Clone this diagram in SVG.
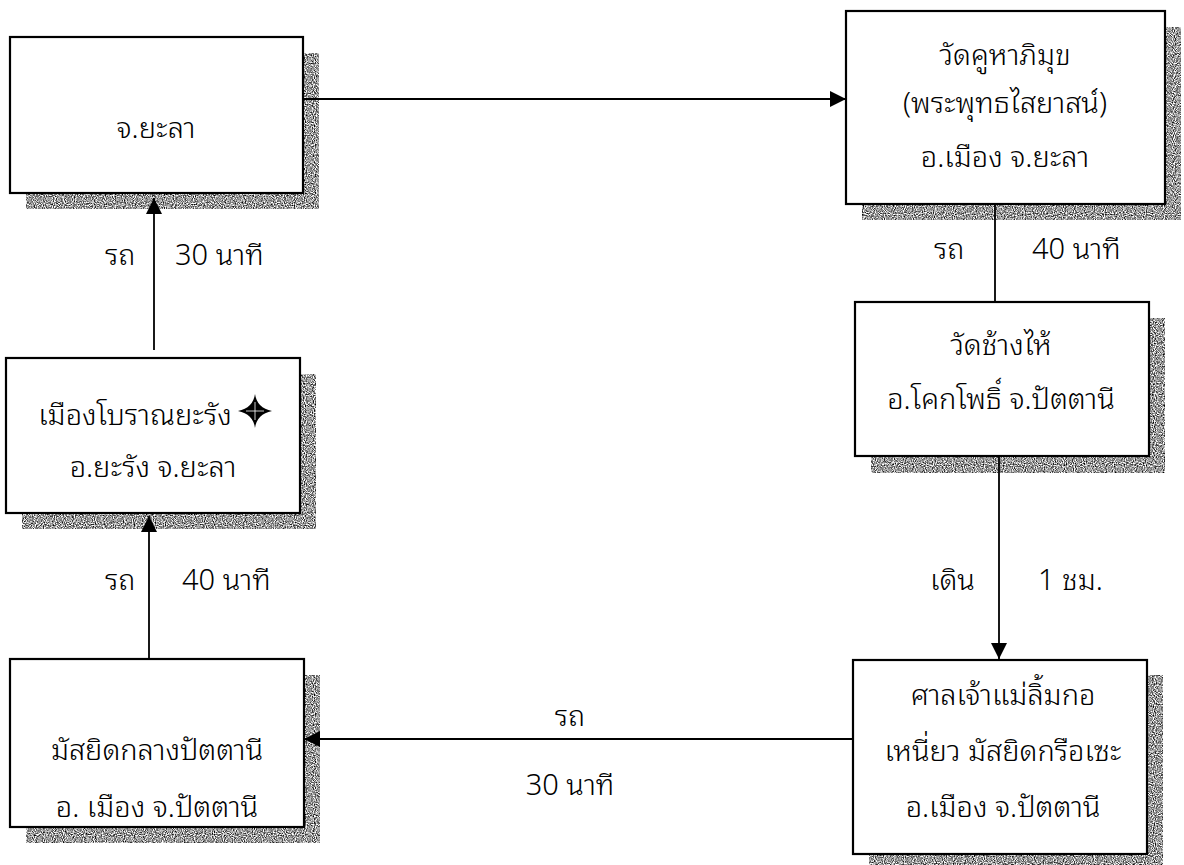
<svg xmlns="http://www.w3.org/2000/svg" width="1184" height="865" viewBox="0 0 1184 865">
<style>
.box{fill:#fff;stroke:#000;stroke-width:2.2}
.sh{fill:#888;filter:url(#noise)}
.t{font-family:"Noto Sans Thai Looped","Noto Sans Thai","Noto Sans",sans-serif;font-size:29px;font-weight:300;fill:#000;text-anchor:middle}
.lb{font-family:"Noto Sans Thai Looped","Noto Sans Thai","Noto Sans",sans-serif;font-size:29px;font-weight:300;fill:#000}
.c{fill:none;stroke:#000;stroke-width:1.8}
</style>
<defs>
<filter id="noise" x="0" y="0" width="1" height="1" filterUnits="objectBoundingBox" color-interpolation-filters="sRGB">
<feTurbulence type="fractalNoise" baseFrequency="0.9" numOctaves="1" seed="3" result="n"/>
<feColorMatrix in="n" type="matrix" values="2.2 0 0 0 -0.5  2.2 0 0 0 -0.5  2.2 0 0 0 -0.5  0 0 0 0 1" result="g"/>
<feComposite in="g" in2="SourceAlpha" operator="in"/>
</filter>
<marker id="ah" markerUnits="userSpaceOnUse" markerWidth="16" markerHeight="16" viewBox="0 0 16 16" refX="16" refY="8" orient="auto">
<path d="M0,0 L16,8 L0,16 Z" fill="#000"/>
</marker>
</defs>

<g id="n1">
<rect class="sh" x="26" y="53" width="293" height="156"/>
<rect class="box" x="10" y="37" width="293" height="156"/>
<text class="t" x="156" y="138">จ.ยะลา</text>
</g>

<g id="n2">
<rect class="sh" x="862" y="27" width="319" height="193"/>
<rect class="box" x="846" y="11" width="319" height="193"/>
<text class="t" x="1005" y="65">วัดคูหาภิมุข</text>
<text class="t" x="1005" y="113">(พระพุทธไสยาสน์)</text>
<text class="t" x="1005" y="167">อ.เมือง จ.ยะลา</text>
</g>

<g id="n3">
<rect class="sh" x="871" y="318" width="294" height="155"/>
<rect class="box" x="855" y="302" width="294" height="154"/>
<text class="t" x="1001" y="355">วัดช้างไห้</text>
<text class="t" x="1001" y="409">อ.โคกโพธิ์ จ.ปัตตานี</text>
</g>

<g id="n4">
<rect class="sh" x="22" y="374" width="294" height="155"/>
<rect class="box" x="6" y="358" width="294" height="155"/>
<text class="t" x="135" y="425">เมืองโบราณยะรัง</text>
<path d="M255,394 Q257,408 272,411 Q257,414 255,428 Q253,414 238,411 Q253,408 255,394 Z" fill="#000"/>
<path d="M255,402 L255,420 M246,411 L264,411" stroke="#fff" stroke-width="0.8"/>
<text class="t" x="153" y="477">อ.ยะรัง จ.ยะลา</text>
</g>

<g id="n5">
<rect class="sh" x="26" y="675" width="294" height="168"/>
<rect class="box" x="10" y="659" width="294" height="168"/>
<text class="t" x="157" y="760">มัสยิดกลางปัตตานี</text>
<text class="t" x="157" y="817">อ. เมือง จ.ปัตตานี</text>
</g>

<g id="n6">
<rect class="sh" x="869" y="675" width="294" height="194"/>
<rect class="box" x="853" y="660" width="294" height="194"/>
<text class="t" x="1003" y="705">ศาลเจ้าแม่ลิ้มกอ</text>
<text class="t" x="1003" y="761">เหนี่ยว มัสยิดกรือเซะ</text>
<text class="t" x="1003" y="817">อ.เมือง จ.ปัตตานี</text>
</g>

<g id="connectors">
<line class="c" x1="303" y1="99" x2="846" y2="99" marker-end="url(#ah)"/>
<line class="c" x1="995" y1="204" x2="995" y2="302"/>
<line class="c" x1="999" y1="456" x2="999" y2="659" marker-end="url(#ah)"/>
<line class="c" x1="853" y1="739" x2="304" y2="739" marker-end="url(#ah)"/>
<line class="c" x1="149" y1="659" x2="149" y2="516" marker-end="url(#ah)"/>
<line class="c" x1="154" y1="350" x2="154" y2="198" marker-end="url(#ah)"/>
</g>

<g id="labels">
<text class="lb" x="105" y="265">รถ</text>
<text class="lb" x="175" y="265">30 นาที</text>
<text class="lb" x="934" y="259">รถ</text>
<text class="lb" x="1032" y="259">40 นาที</text>
<text class="lb" x="930" y="590">เดิน</text>
<text class="lb" x="1038" y="590">1 ชม.</text>
<text class="lb" x="105" y="590">รถ</text>
<text class="lb" x="182" y="590">40 นาที</text>
<text class="t" x="570" y="726">รถ</text>
<text class="t" x="570" y="795">30 นาที</text>
</g>
</svg>
